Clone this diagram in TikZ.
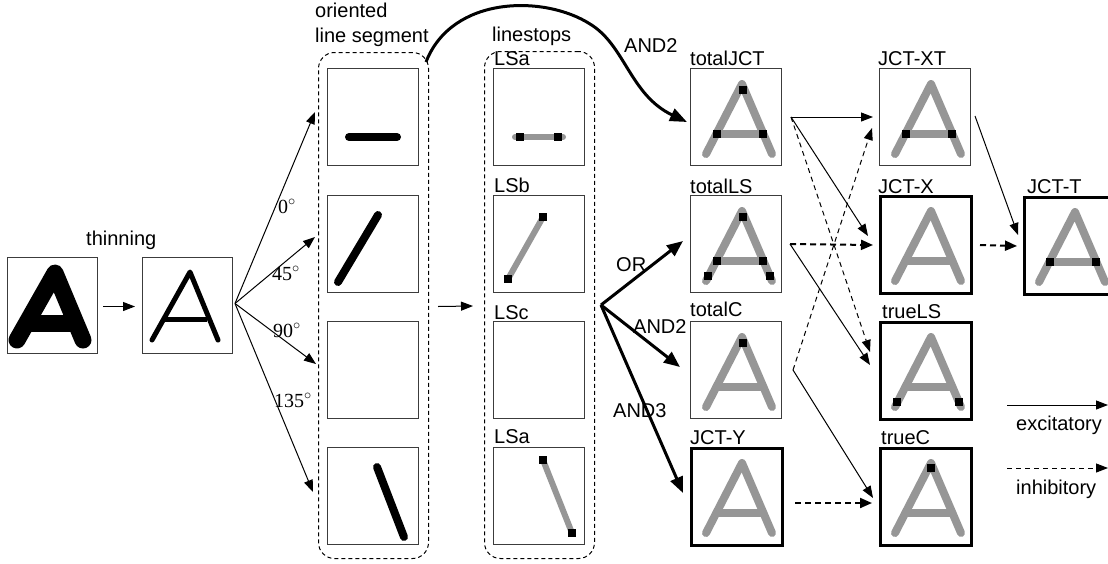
\documentclass[tikz,border=0pt]{standalone}
\usepackage{fontspec}
\setmainfont{Liberation Sans}
\newfontfamily\serifnum{Liberation Serif}
\usetikzlibrary{arrows.meta,calc}
\definecolor{agray}{RGB}{150,150,150}
\definecolor{bord}{RGB}{60,60,60}
\tikzset{
 every node/.style={font=\fontsize{20}{22}\selectfont, inner sep=0pt},
 box/.style={draw=bord, line width=1, minimum width=91, minimum height=97, anchor=north west, inner sep=0pt},
 thickbox/.style={box, draw=black, line width=3},
 grayline/.style={draw=agray, line width=8, line cap=round, line join=round},
 segline/.style={line width=8, line cap=round},
 lsline/.style={draw=agray, line width=6, line cap=round},
 dashbox/.style={draw, dash pattern=on 4pt off 3pt, line width=1, rounded corners=16, anchor=north west, inner sep=0pt},
 exc/.style={line width=1, -{Triangle[length=12pt,width=9pt]}},
 inhthin/.style={exc, dash pattern=on 5pt off 4pt},
 inhthick/.style={line width=2, dash pattern=on 6pt off 4pt, -{Triangle[length=12pt,width=10pt]}},
 strong/.style={line width=3, -{Triangle[length=16pt,width=13pt]}},
 lbl/.style={anchor=base west},
 deg/.style={anchor=base west, font=\fontsize{20}{22}\serifnum},
}
\newcommand\grayA{%
  \draw[grayline] (16,86) -- (52,16) -- (82,86);
  \draw[grayline] (26.3,66) -- (73.4,66);}
\newcommand\sqr[2]{\fill (#1,#2) +(-4,-4) rectangle +(4,4);}
\begin{document}
\begin{tikzpicture}[x=1pt,y=-1pt]
\useasboundingbox (0,0) rectangle (1108,563);
\clip (0,0) rectangle (1108,563);

% ---- input and thinning
\node[box, minimum width=90, minimum height=96] (in) at (7,257) {};
\begin{scope}[shift={(7,257)}]
  \draw[line width=17, line cap=round, line join=round] (10,83) -- (48,16) -- (76,83);
  \draw[line width=17] (19.6,66) -- (68.9,66);
\end{scope}
\node[box, minimum width=90, minimum height=96] (thin) at (142,257) {};
\begin{scope}[shift={(142,257)}]
  \draw[line width=5, line cap=round, line join=round] (10,83) -- (48,15) -- (76,83);
  \draw[line width=5] (21.7,62) -- (64.5,62);
\end{scope}
\node[lbl] (tthin) at (86,245) {thinning};
\draw[exc] ([shift={(5,1)}]in.east) -- ([shift={(-7,1)}]thin.west);

% ---- oriented line segments
\node[dashbox, minimum width=110, minimum height=506] (seg) at (318,52) {};
\node[lbl] (tor1) at (315,17) {oriented};
\node[lbl] (tor2) at (315,42) {line segment};
\node[box] (o1) at (327,68) {};
\node[box] (o2) at (327,195) {};
\node[box] (o3) at (327,321) {};
\node[box] (o4) at (327,447) {};
\draw[segline] (349,137) -- (397,137);
\draw[segline] (338,282) -- (378,215);
\draw[segline] (377,467) -- (404,537);

\coordinate (fo) at ([shift={(2,-2)}]thin.east);
\coordinate (f0) at (315,112);
\coordinate (f45) at (315,237);
\coordinate (f90) at (316,364);
\coordinate (f135) at (313,492);
\draw[exc] (fo) -- (f0);
\draw[exc] (fo) -- (f45);
\draw[exc] (fo) -- (f90);
\draw[exc] (fo) -- (f135);
\node[deg] (d0) at (278,213) {0$^{\circ}$};
\node[deg] (d45) at (272,280) {45$^{\circ}$};
\node[deg] (d90) at (273,337) {90$^{\circ}$};
\node[deg] (d135) at (274,407) {135$^{\circ}$};

% ---- linestops
\node[dashbox, minimum width=110, minimum height=507] (ls) at (484,51) {};
\node[lbl] (tls) at (492,41) {linestops};
\node[box] (l1) at (493,68) {};
\node[box] (l2) at (493,195) {};
\node[box] (l3) at (493,321) {};
\node[box] (l4) at (493,447) {};
\node[lbl] (tl1) at (494,65) {LSa};
\node[lbl] (tl2) at (494,192) {LSb};
\node[lbl] (tl3) at (494,319) {LSc};
\node[lbl] (tl4) at (494,443) {LSa};
\draw[lsline] (515,137) -- (563,137); \sqr{520}{137}\sqr{558}{137}
\draw[lsline] (508,279) -- (543,217); \sqr{508}{279}\sqr{543}{217}
\draw[lsline] (543,460) -- (572,533); \sqr{543}{460}\sqr{572}{533}
\draw[exc] ([shift={(9,1)}]seg.east) -- ([shift={(-11,1)}]ls.west);

% ---- right boxes
\node[box] (tJ) at (690,68) {};
\node[box] (tL) at (690,195) {};
\node[box] (tC) at (690,321) {};
\node[thickbox] (jY) at (690,447) {};
\node[box] (jXT) at (879,68) {};
\node[thickbox] (jX) at (879,195) {};
\node[thickbox] (tLS) at (879,321) {};
\node[thickbox] (tCC) at (879,447) {};
\node[thickbox] (jT) at (1023,196) {};
\begin{scope}[shift={(690,68)}]\grayA \sqr{53}{22}\sqr{27}{66}\sqr{73}{66}\end{scope}
\begin{scope}[shift={(690,195)}]\grayA \sqr{53}{22}\sqr{27}{66}\sqr{73}{66}\sqr{18}{81}\sqr{80}{81}\end{scope}
\begin{scope}[shift={(690,321)}]\grayA \sqr{53}{22}\end{scope}
\begin{scope}[shift={(690,447)}]\grayA\end{scope}
\begin{scope}[shift={(879,68)}]\grayA \sqr{27}{66}\sqr{73}{66}\end{scope}
\begin{scope}[shift={(879,195)}]\grayA\end{scope}
\begin{scope}[shift={(879,321)}]\grayA \sqr{18}{81}\sqr{80}{81}\end{scope}
\begin{scope}[shift={(879,447)}]\grayA \sqr{52}{21}\end{scope}
\begin{scope}[shift={(1023,196)}]\grayA \sqr{27}{66}\sqr{73}{66}\end{scope}
\node[lbl] (ttJ) at (690,65) {totalJCT};
\node[lbl] (ttL) at (690,193) {totalLS};
\node[lbl] (ttC) at (690,316) {totalC};
\node[lbl] (tjY) at (690,444) {JCT-Y};
\node[lbl] (tjXT) at (878,65) {JCT-XT};
\node[lbl] (tjX) at (878,193) {JCT-X};
\node[lbl] (ttLS) at (882,318) {trueLS};
\node[lbl] (ttCC) at (881,444) {trueC};
\node[lbl] (tjT) at (1027,193) {JCT-T};

% ---- combination arrows
\draw[line width=3, -{Triangle[length=17pt,width=13pt]}]
  ([shift={(-3,10)}]seg.north east) .. controls (452,-5) and (545,-5) .. (590,24)
  .. controls (625,45) and (630,95) .. ([shift={(-3,5)}]tJ.west);
\node[lbl] (tand0) at (624,52) {AND2};
\coordinate (go) at ([shift={(6,0)}]ls.east);
\draw[strong] (go) -- ([shift={(-7,-3)}]tL.west);
\draw[strong] (go) -- ([shift={(-10,-3)}]tC.west);
\draw[strong] (go) -- ([shift={(-7,-4)}]jY.west);
\node[lbl] (tor) at (616,271) {OR};
\node[lbl] (tand2) at (633,333) {AND2};
\node[lbl] (tand3) at (613,417) {AND3};

% ---- excitatory / inhibitory connections
\draw[exc] ([shift={(9,0)}]tJ.east) -- ([shift={(-6,0)}]jXT.west);
\draw[exc] ([shift={(9,0)}]tJ.east) -- ([shift={(-11,-9)}]jX.west);
\draw[inhthin] ([shift={(9,0)}]tJ.east) -- ([shift={(-9,-19)}]tLS.west);
\draw[inhthick] ([shift={(8,0)}]tL.east) -- ([shift={(-6,0)}]jX.west);
\draw[exc] ([shift={(8,0)}]tL.east) -- ([shift={(-9,-6)}]tLS.west);
\draw[inhthin] ([shift={(11,0)}]tC.east) -- ([shift={(-7,11)}]jXT.west);
\draw[exc] ([shift={(11,0)}]tC.east) -- ([shift={(-6,1)}]tCC.west);
\draw[inhthick] ([shift={(11,6)}]jY.east) -- ([shift={(-7,6)}]tCC.west);
\draw[inhthick] ([shift={(7,0)}]jX.east) -- ([shift={(-6,0)}]jT.west);
\draw[exc] ([shift={(4,-1)}]jXT.east) -- ([shift={(-5,-11)}]jT.west);

% ---- legend
\coordinate (le1) at (1007,405);
\coordinate (le2) at (1108,405);
\coordinate (li1) at (1007,468);
\coordinate (li2) at (1108,468);
\draw[exc] (le1) -- (le2);
\draw[inhthin] (li1) -- (li2);
\node[lbl] (texc) at (1016,430) {excitatory};
\node[lbl] (tinh) at (1016,494) {inhibitory};
\end{tikzpicture}
\end{document}
